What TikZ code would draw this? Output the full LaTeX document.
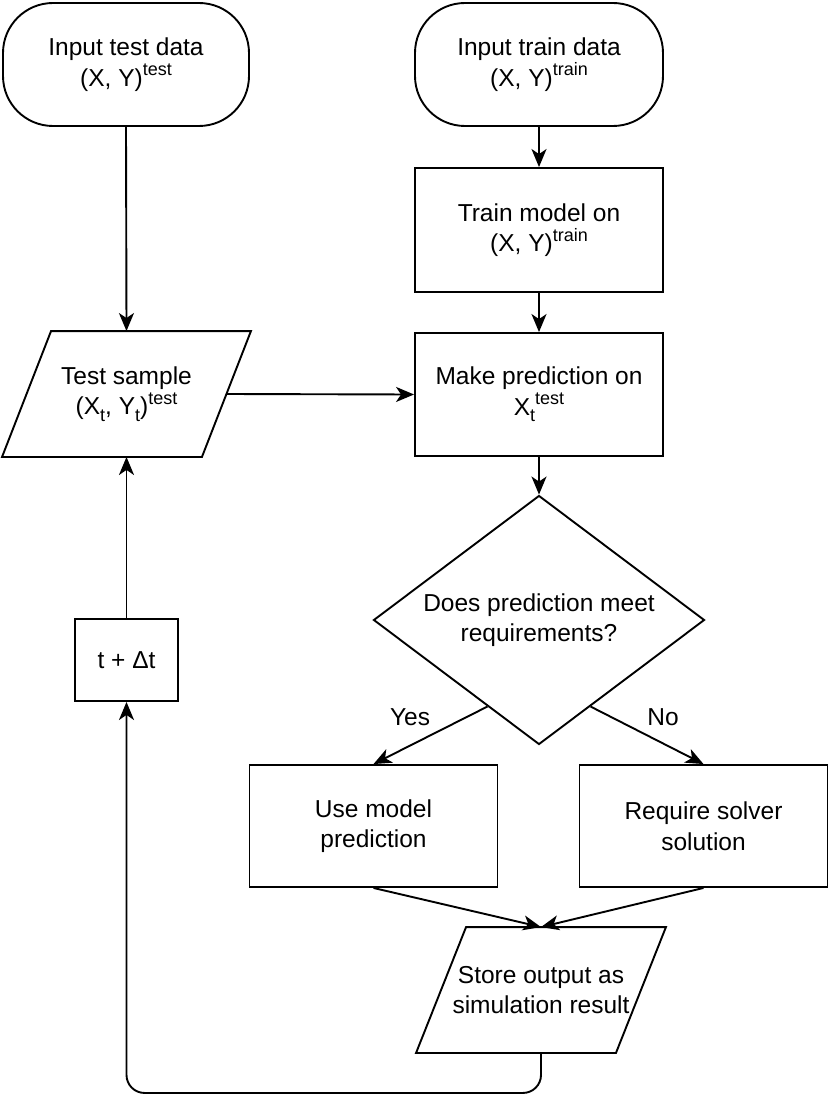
\documentclass[tikz,border=0pt]{standalone}
\usepackage{fontspec}
\setmainfont{Liberation Sans}
\usetikzlibrary{arrows.meta,calc,shapes.geometric}
\newcommand\mysup[1]{\raisebox{0.42em}{\fontsize{18}{18}\selectfont #1}}
\newcommand\mysub[1]{\raisebox{-0.28em}{\fontsize{18}{18}\selectfont #1}}
\begin{document}
\begin{tikzpicture}[x=1pt,y=-1pt,line width=1.9pt,
  txt/.style={align=center,inner sep=0pt,font=\fontsize{24.5}{30.5}\selectfont},
  boxnode/.style={txt,draw,rectangle,minimum width=248pt,minimum height=123pt},
  termnode/.style={boxnode,rounded corners=50pt},
  paranode/.style={txt,rectangle,minimum width=248pt,minimum height=124pt},
  decision/.style={txt,draw,diamond,aspect=1.33,minimum width=331pt,minimum height=249pt},
  arr/.style={-{Stealth[length=18pt,width=15pt,inset=5pt]}},
  lbl/.style={txt}]
\useasboundingbox (0,0) rectangle (830,1115);
\fill[white] (0,0) rectangle (830,1115);
% nodes
\node[termnode,minimum width=246pt] (itd) at (126,64.5) {Input test data\\(X, Y)\mysup{test}};
\node[termnode] (itr) at (539,64.5) {Input train data\\(X, Y)\mysup{train}};
\node[boxnode,minimum height=124pt] (tm) at (539,230) {Train model on\\(X, Y)\mysup{train}};
\node[boxnode] (mp) at (539,394.5) {Make prediction on\\X\mysub{t}\mysup{test}};
\node[paranode,minimum width=247pt] (ts) at (126.5,394) {Test sample\\(X\mysub{t}, Y\mysub{t})\mysup{test}};
\draw ($(ts.north west)+(49,0)$) -- (ts.north east) -- ($(ts.south east)+(-49,0)$) -- (ts.south west) -- cycle;
\coordinate (tsE) at ($(ts.east)+(-24.5,0)$);
\node[decision] (dia) at (539,620) {Does prediction meet\\requirements?};
\node[txt,draw,rectangle,minimum width=103pt,minimum height=82pt] (dt) at (126.5,660) {t + Δt};
\node[boxnode,minimum height=122pt] (um) at (373.5,826) {Use model\\prediction};
\node[boxnode,minimum height=122pt] (rs) at (703.5,826) {Require solver\\solution};
\node[paranode] (so) at (541,990) {Store output as\\simulation result};
\draw ($(so.north west)+(50,0)$) -- (so.north east) -- ($(so.south east)+(-50,0)$) -- (so.south west) -- cycle;
\coordinate (yesS) at ($(dia.west)!0.69!(dia.south)$);
\coordinate (noS) at ($(dia.east)!0.69!(dia.south)$);
\node[lbl] (yes) at (410,717) {Yes};
\node[lbl] (no) at (663,717) {No};
% connectors
\draw[arr] (itd.south) -- (ts.north);
\draw[arr] (itr.south) -- (tm.north);
\draw[arr] (tm.south) -- (mp.north);
\draw[arr] (tsE) -- (mp.west);
\draw[arr] (mp.south) -- (dia.north);
\draw[arr] (dt.north) -- (ts.south);
\draw[arr] (yesS) -- (um.north);
\draw[arr] (noS) -- (rs.north);
\draw[arr] (um.south) -- (so.north);
\draw[arr] (rs.south) -- (so.north);
\draw[arr,rounded corners=18pt] (so.south) -- ++(0,40) -| (dt.south);
\end{tikzpicture}
\end{document}
